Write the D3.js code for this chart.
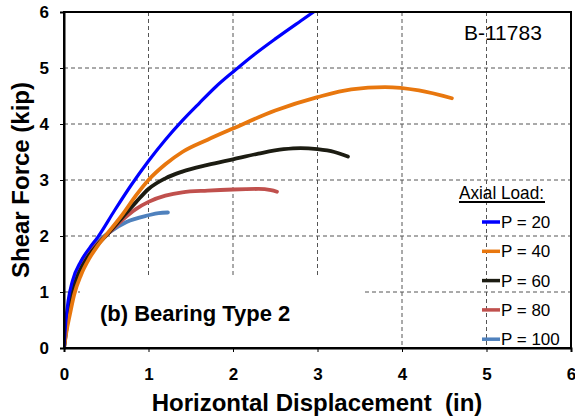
<!DOCTYPE html>
<html><head><meta charset="utf-8">
<script src="https://cdn.jsdelivr.net/npm/d3@7"></script>
<style>body{margin:0;background:#fff}svg{display:block}text{font-family:Arial,"Liberation Sans",sans-serif}</style>
</head><body><svg id="c" width="575" height="420"></svg>
<script>
const xTicks=[0,1,2,3,4,5,6];
const yTicks=[0,1,2,3,4,5,6];
const seriesNames=["P = 20","P = 40","P = 60","P = 80","P = 100"];
const seriesColors=["#0000FF","#E8770E","#1C1C12","#C0504D","#4F81BD"];
const p20=[[0,0],[0.02,0.45],[0.05,0.85],[0.1,1.2],[0.2,1.55],[0.3,1.78],[0.4,1.98],[0.6,2.46],[0.8,2.92],[1.0,3.34],[1.2,3.72],[1.4,4.06],[1.6,4.37],[1.8,4.67],[2.0,4.93],[2.2,5.18],[2.5,5.52],[2.8,5.84],[3.0,6.05]];
const p40=[[0,0],[0.03,0.3],[0.07,0.6],[0.12,0.95],[0.2,1.3],[0.3,1.6],[0.4,1.83],[0.5,2.02],[0.7,2.4],[0.85,2.72],[1.0,3.0],[1.2,3.28],[1.4,3.5],[1.7,3.72],[2.0,3.92],[2.5,4.24],[3.0,4.48],[3.4,4.62],[3.8,4.66],[4.2,4.6],[4.59,4.46]];
const p60=[[0,0],[0.03,0.35],[0.06,0.7],[0.1,1.0],[0.18,1.35],[0.28,1.62],[0.4,1.85],[0.5,2.01],[0.7,2.35],[0.85,2.6],[1.0,2.84],[1.2,3.03],[1.4,3.15],[1.7,3.27],[2.0,3.37],[2.3,3.47],[2.6,3.55],[2.8,3.57],[3.0,3.55],[3.2,3.5],[3.36,3.42]];
const p80=[[0,0],[0.02,0.35],[0.05,0.7],[0.09,1.0],[0.15,1.3],[0.25,1.6],[0.4,1.87],[0.5,2.01],[0.7,2.3],[0.85,2.48],[1.0,2.61],[1.2,2.72],[1.4,2.78],[1.7,2.81],[2.0,2.83],[2.3,2.84],[2.45,2.82],[2.52,2.79]];
const p100=[[0,0],[0.02,0.35],[0.05,0.65],[0.08,0.95],[0.12,1.2],[0.18,1.45],[0.25,1.65],[0.39,1.89],[0.54,2.07],[0.74,2.25],[1.0,2.37],[1.12,2.41],[1.23,2.42]];
const series=[p20,p40,p60,p80,p100];

const svg=d3.select("#c");
const L=64,R=571,T=12,B=348;
const x=d3.scaleLinear().domain([0,6]).range([L,R]);
const y=d3.scaleLinear().domain([0,6]).range([B,T]);

// grid
const g=svg.append("g");
g.selectAll(".vg").data(xTicks.slice(1,-1)).enter().append("line")
 .attr("x1",d=>x(d)).attr("x2",d=>x(d)).attr("y1",T).attr("y2",B)
 .attr("stroke","#555").attr("stroke-width",1).attr("stroke-dasharray","4,3");
g.selectAll(".hg").data(yTicks.slice(1,-1)).enter().append("line")
 .attr("x1",L).attr("x2",R).attr("y1",d=>y(d)).attr("y2",d=>y(d))
 .attr("stroke","#555").attr("stroke-width",1).attr("stroke-dasharray","4,3");
// white box behind annotation
svg.append("rect").attr("x",80).attr("y",275).attr("width",282).attr("height",B-275).attr("fill","#fff");

// clip
svg.append("clipPath").attr("id","clip").append("rect").attr("x",L).attr("y",T).attr("width",R-L).attr("height",B-T);
const line=d3.line().x(d=>x(d[0])).y(d=>y(d[1])).curve(d3.curveMonotoneX);
svg.append("g").attr("clip-path","url(#clip)").selectAll("path").data(series.slice().reverse()).enter().append("path")
 .attr("d",line).attr("fill","none")
 .attr("stroke",(d,i)=>seriesColors[4-i]).attr("stroke-width",(d,i)=>4-i===0?3.2:3.8)
 .attr("stroke-linecap","round").attr("stroke-linejoin","round");

// frame
svg.append("rect").attr("x",L).attr("y",T).attr("width",R-L).attr("height",B-T).attr("fill","none").attr("stroke","#000").attr("stroke-width",2);

// axes
const ax=svg.append("g").attr("transform",`translate(0,${B})`).call(d3.axisBottom(x).tickValues(xTicks).tickSize(4).tickPadding(16).tickFormat(d3.format("d")));
const ay=svg.append("g").attr("transform",`translate(${L},0)`).call(d3.axisLeft(y).tickValues(yTicks).tickSize(4).tickPadding(11).tickFormat(d3.format("d")));
[ax,ay].forEach(a=>{a.select(".domain").attr("stroke","#000").attr("stroke-width",2);
 a.selectAll(".tick line").attr("stroke","#000");
 a.selectAll("text").attr("font-size",17).attr("font-weight","bold").attr("fill","#000").attr("font-family","Arial,'Liberation Sans',sans-serif");});

// axis titles
svg.append("text").attr("x",317).attr("y",411).attr("text-anchor","middle").attr("font-size",24).attr("font-weight","bold").style("white-space","pre").text("Horizontal Displacement  (in)");
svg.append("text").attr("transform","translate(29,180) rotate(-90)").attr("text-anchor","middle").attr("font-size",24).attr("font-weight","bold").text("Shear Force (kip)");

// annotations
svg.append("text").attr("x",464).attr("y",40).attr("font-size",21).text("B-11783");
svg.append("text").attr("x",100).attr("y",321).attr("font-size",22).attr("font-weight","bold").text("(b) Bearing Type 2");

// legend
svg.append("text").attr("x",459).attr("y",199).attr("font-size",19).attr("textLength",85).attr("lengthAdjust","spacingAndGlyphs").text("Axial Load:");
svg.append("line").attr("x1",459).attr("x2",545).attr("y1",202).attr("y2",202).attr("stroke","#000").attr("stroke-width",1.8);
const lg=svg.append("g").selectAll("g").data(seriesNames).enter().append("g").attr("transform",(d,i)=>`translate(482,${222+i*29.3})`);
lg.append("line").attr("x1",0).attr("x2",18).attr("stroke",(d,i)=>seriesColors[i]).attr("stroke-width",3.5);
lg.append("text").attr("x",19).attr("y",6).attr("font-size",17).text(d=>d);
</script></body></html>
